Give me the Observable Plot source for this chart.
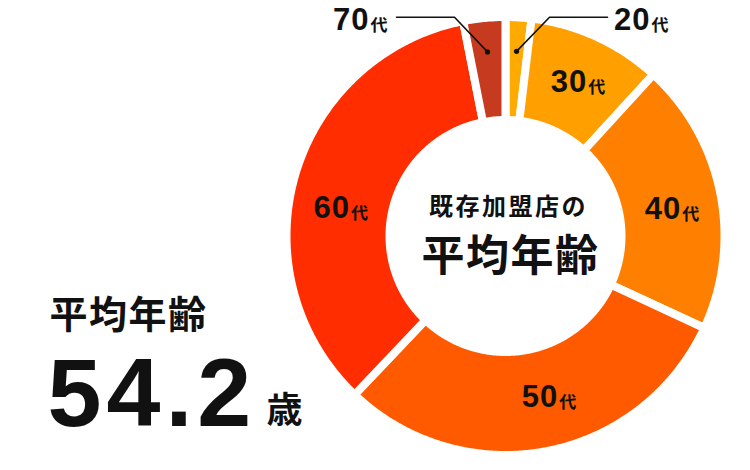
<!DOCTYPE html>
<html><head><meta charset="utf-8">
<script src="https://cdn.jsdelivr.net/npm/d3@7"></script>
<script src="https://cdn.jsdelivr.net/npm/@observablehq/plot@0.6"></script>
<style>
html,body{margin:0;padding:0;background:#fff;}
</style>
</head><body><div id="chart"></div>
<script>
// ---- data ----
const ageGroups = ["20代","30代","40代","50代","60代","70代"];
const ageDigits = ["20","30","40","50","60","70"];
const shares = [1.9, 9.9, 20.1, 30.2, 34.8, 3.1];
const sliceColors = ["#FFAA00","#FF9F00","#FF8000","#FF5A00","#FF2D00","#C63B1F"];
const unitChar = "代";
const centerTitle = "既存加盟店の";
const centerMain = "平均年齢";
const avgLabel = "平均年齢";
const avgValue = "54.2";
const avgUnit = "歳";

// ---- geometry (layout only) ----
const W = 750, H = 470, CX = 505, CY = 235.5;
const GAP = 8, R_OUT = 215 + GAP / 2, R_IN = 120 - GAP / 2;
const R_DOT = 185, LEADER_Y = -218.8;
// hand-placed label nudges (degrees along the ring, radius) as in the original artwork
const labelNudge = {"30代": [0.7, 172], "40代": [1.9, 170], "50代": [-4.8, 166], "60代": [-6.1, 166]};

const JP = '"Noto Sans CJK JP", "Noto Sans", sans-serif';
const LAT = '"Liberation Sans", Arial, sans-serif';

const pie = d3.pie().sort(null).value(d => d)(shares);
const arcs = pie.map((p, i) => ({
  group: ageGroups[i], digits: ageDigits[i], share: shares[i],
  a0: p.startAngle, a1: p.endAngle, mid: (p.startAngle + p.endAngle) / 2
}));

const pts = [];
for (const a of arcs) {
  const n = Math.max(4, Math.ceil((a.a1 - a.a0) / (Math.PI / 360)));
  for (let k = 0; k <= n; k++) {
    const t = a.a0 + (a.a1 - a.a0) * k / n;
    pts.push({group: a.group, x: R_OUT * Math.sin(t), y: -R_OUT * Math.cos(t)});
  }
  for (let k = n; k >= 0; k--) {
    const t = a.a0 + (a.a1 - a.a0) * k / n;
    pts.push({group: a.group, x: R_IN * Math.sin(t), y: -R_IN * Math.cos(t)});
  }
}

const inside = arcs.filter(a => a.share >= 5).map(a => {
  const [da, r] = labelNudge[a.group] || [0, 168];
  const t = a.mid + da * Math.PI / 180;
  return {...a, x: r * Math.sin(t), y: -r * Math.cos(t)};
});
const outside = arcs.filter(a => a.share < 5);
const leaderPts = [], dots = [], outLabels = [];
for (const a of outside) {
  const side = Math.sin(a.mid) >= 0 ? 1 : -1;
  const dx = R_DOT * Math.sin(a.mid), dy = -R_DOT * Math.cos(a.mid);
  const ex = dx + side * 33, endx = ex + side * 58;
  dots.push({x: dx, y: dy});
  leaderPts.push({g: a.group, x: dx, y: dy}, {g: a.group, x: ex, y: LEADER_Y}, {g: a.group, x: endx, y: LEADER_Y});
  outLabels.push({digits: a.digits, x: endx + side * 35, y: LEADER_Y + 1.5});
}
const labels = inside.concat(outLabels);

const ink = "#111";
const chart = Plot.plot({
  width: W, height: H, margin: 0,
  x: {domain: [-CX, W - CX], range: [0, W], axis: null},
  y: {domain: [-CY, H - CY], range: [0, H], axis: null},
  color: {domain: ageGroups, range: sliceColors},
  style: {background: "#fff", overflow: "visible"},
  marks: [
    Plot.line(pts, {x: "x", y: "y", z: "group", fill: "group", stroke: "white", strokeWidth: GAP, curve: "linear-closed"}),
    Plot.line(leaderPts, {x: "x", y: "y", z: "g", stroke: ink, strokeWidth: 1.6, strokeLinejoin: "miter"}),
    Plot.dot(dots, {x: "x", y: "y", r: 2.6, fill: ink, stroke: null}),
    Plot.text(labels, {x: "x", y: "y", text: "digits", textAnchor: "end", lineAnchor: "bottom", dx: 8, dy: 11, fontSize: 31, fontWeight: 700, fill: ink, fontFamily: LAT}),
    Plot.text(labels, {x: "x", y: "y", text: () => unitChar, textAnchor: "start", lineAnchor: "bottom", dx: 9, dy: 12, fontSize: 17, fontWeight: 700, fill: ink, fontFamily: JP}),
    Plot.text([centerTitle], {x: () => 0, y: () => 0, text: d => d, textAnchor: "middle", lineAnchor: "bottom", dx: 3, dy: 214 - CY, fontSize: 24, fontWeight: 600, fill: ink, fontFamily: JP}),
    Plot.text([centerMain], {x: () => 0, y: () => 0, text: d => d, textAnchor: "middle", lineAnchor: "bottom", dx: 5, dy: 270 - CY, fontSize: 43, fontWeight: 700, fill: ink, fontFamily: JP}),
    Plot.text([avgLabel], {frameAnchor: "top-left", text: d => d, textAnchor: "start", lineAnchor: "bottom", dx: 49, dy: 327, fontSize: 38, fontWeight: 700, fill: ink, fontFamily: JP}),
    Plot.text([avgValue], {frameAnchor: "top-left", text: d => d, textAnchor: "start", lineAnchor: "bottom", dx: 47, dy: 425, fontSize: 97, fontWeight: 700, fill: ink, fontFamily: LAT}),
    Plot.text([avgUnit], {frameAnchor: "top-left", text: d => d, textAnchor: "start", lineAnchor: "bottom", dx: 266, dy: 422.5, fontSize: 36, fontWeight: 700, fill: ink, fontFamily: JP})
  ]
});

d3.select(chart).selectAll("text").each(function () {
  const t = this.textContent;
  const fs = this.getAttribute("font-size");
  if (t === centerTitle) this.style.letterSpacing = "2.5px";
  else if (t === avgValue) this.style.letterSpacing = "5px";
  else if (ageDigits.includes(t)) this.style.letterSpacing = "1px";
  else if (t === centerMain) this.style.letterSpacing = fs === "38" ? "1px" : "1.5px";
});
document.getElementById("chart").append(chart);
</script>
</body></html>
